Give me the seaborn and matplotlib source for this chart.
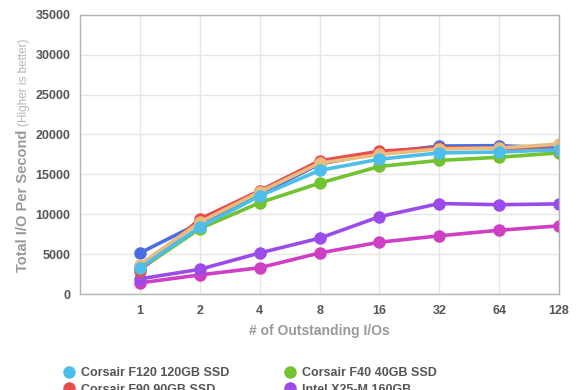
import matplotlib
matplotlib.use("Agg")
import matplotlib.pyplot as plt
from matplotlib.lines import Line2D
import pandas as pd
import seaborn as sns

# outstanding I/O queue depth
queue_depth = [1, 2, 4, 8, 16, 32, 64, 128]

drives = [
    "Corsair F120 120GB SSD",
    "Corsair F90 90GB SSD",
    "OCZ Vertex 2 100GB",
    "Corsair F40 40GB SSD",
    "Intel X25-M 160GB",
    "Intel X25-V 40GB",
    "OCZ Agility 2 100GB",
]
f120 = [3250, 8400, 12300, 15500, 16900, 17700, 17800, 18100]
f90 = [2950, 9400, 12950, 16700, 17900, 18350, 18250, 18100]
vertex2 = [5150, 8900, 12500, 16300, 17700, 18550, 18600, 18300]
f40 = [3100, 8200, 11450, 13900, 16000, 16750, 17150, 17700]
x25m = [1900, 3100, 5150, 7000, 9700, 11350, 11200, 11300]
x25v = [1400, 2400, 3300, 5150, 6500, 7300, 8000, 8550]
agility2 = [3700, 9000, 12800, 16400, 17500, 18200, 18300, 18800]

colors = ["#4dbdea", "#e84c4c", "#4a6de3", "#72c232",
          "#9b4ce8", "#cf3fc4", "#e9bb7c"]

df = pd.DataFrame({
    "qd": queue_depth * 7,
    "iops": f120 + f90 + vertex2 + f40 + x25m + x25v + agility2,
    "drive": [d for d in drives for _ in queue_depth],
})

sns.set_theme(style="white")
plt.rcParams["font.family"] = ["Liberation Sans", "DejaVu Sans"]

fig = plt.figure(figsize=(5.8, 3.9), dpi=100)
ax = fig.add_axes([0.138, 0.246, 0.826, 0.716])

draw_order = ["Intel X25-V 40GB", "Intel X25-M 160GB", "Corsair F40 40GB SSD",
              "OCZ Vertex 2 100GB", "Corsair F90 90GB SSD",
              "OCZ Agility 2 100GB", "Corsair F120 120GB SSD"]
pal = dict(zip(drives, colors))
for d in draw_order:
    sns.lineplot(data=df[df["drive"] == d], x="qd", y="iops", color=pal[d],
                 linewidth=2.6, marker="o", markersize=9, markeredgewidth=0,
                 ax=ax, label=d, legend=False)

ax.set_xscale("log", base=2)
ax.set_xlim(0.5, 128)
ax.set_xticks(queue_depth)
ax.set_xticklabels([str(q) for q in queue_depth])
ax.minorticks_off()
ax.set_ylim(0, 35000)
ax.set_yticks(range(0, 35001, 5000))
ax.grid(True, color="#e6e6e6", linewidth=1)
ax.set_axisbelow(True)
for s in ax.spines.values():
    s.set_color("#b4b4b4")
    s.set_linewidth(1)
ax.tick_params(axis="both", length=0, labelsize=9, labelcolor="#555555")
for lab in ax.get_xticklabels() + ax.get_yticklabels():
    lab.set_fontweight("bold")
ax.tick_params(axis="y", pad=7)
ax.tick_params(axis="x", pad=8)
ax.set_xlabel("# of Outstanding I/Os", fontsize=10, color="#999999",
              fontweight="bold", labelpad=5)
ax.set_ylabel("")

fig.text(23 / 580, (390 - 272) / 390, "Total I/O Per Second", rotation=90,
         ha="center", va="bottom", fontsize=10.5, fontweight="bold",
         color="#999999")
fig.text(24 / 580, (390 - 126) / 390, "(Higher is better)", rotation=90,
         ha="center", va="bottom", fontsize=8.5, color="#b5b5b5")

leg_order = ["Corsair F120 120GB SSD", "Corsair F90 90GB SSD",
             "OCZ Vertex 2 100GB", "OCZ Agility 2 100GB",
             "Corsair F40 40GB SSD", "Intel X25-M 160GB",
             "Intel X25-V 40GB"]
hs = [Line2D([], [], linestyle="none", marker="o", markersize=9,
             markeredgewidth=0, color=pal[d]) for d in leg_order]
leg = fig.legend(hs, leg_order, ncol=2, loc="upper left",
                 bbox_to_anchor=(50 / 580, (390 - 356) / 390),
                 frameon=False, columnspacing=4.2, handletextpad=0.4,
                 labelspacing=0.35, prop={"size": 9, "weight": "bold"},
                 handlelength=1.2)
for t in leg.get_texts():
    t.set_color("#555555")

fig.savefig("out.png", dpi=100)
